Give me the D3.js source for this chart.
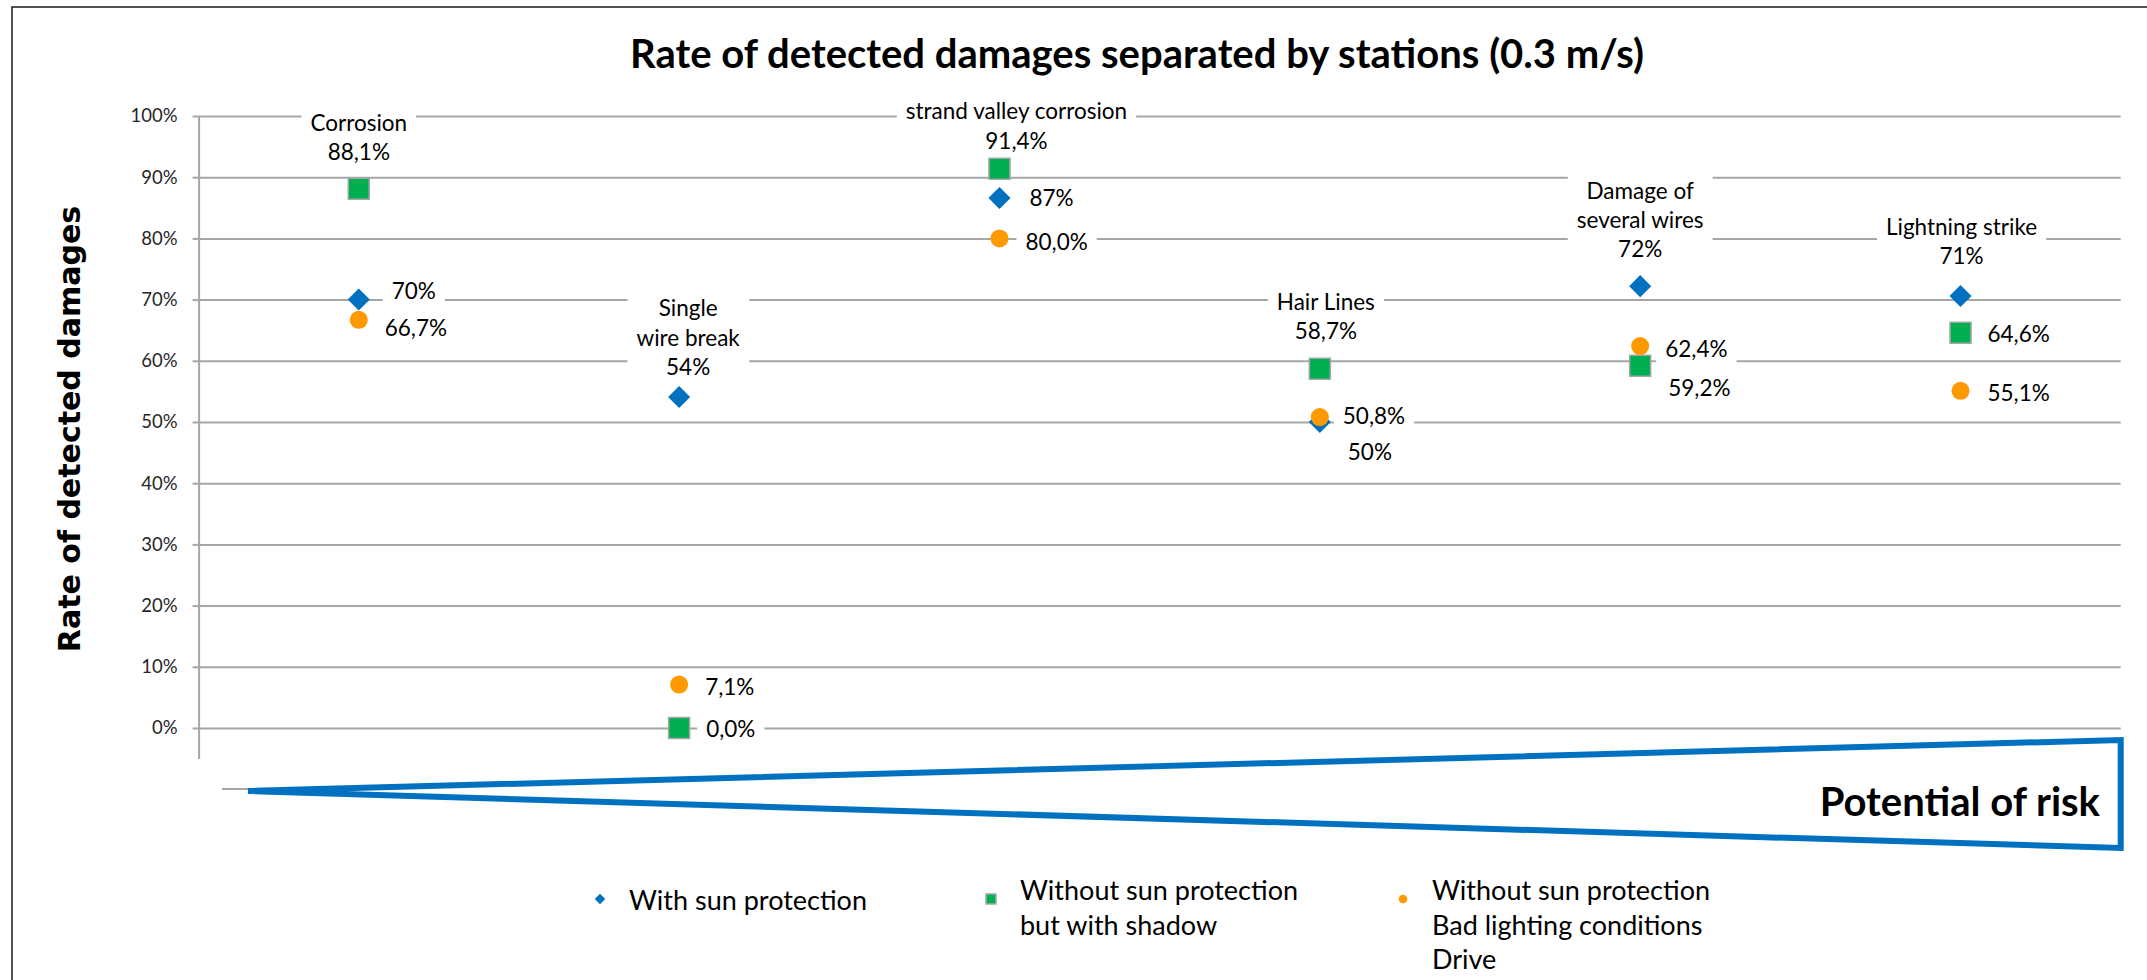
<!DOCTYPE html>
<html>
<head>
<meta charset="utf-8">
<script src="https://cdn.jsdelivr.net/npm/d3@7"></script>
<style>
  html, body { margin: 0; background: #fff; }
  #content { width: 2147px; height: 980px; }
</style>
</head>
<body>
<div id="content"></div>
<script>
// categories along the (implicit) risk axis
var categories = ["Corrosion", "Single\nwire break", "strand valley corrosion", "Hair Lines", "Damage of\nseveral wires", "Lightning strike"];
var seriesNames = ["With sun protection", "Without sun protection\nbut with shadow", "Without sun protection\nBad lighting conditions\nDrive"];
var withSunProtection = [0.700, 0.541, 0.866, 0.500, 0.722, 0.706];
var shadowNoProtection = [0.881, 0.000, 0.914, 0.587, 0.592, 0.646];
var badLightingDrive = [0.667, 0.071, 0.800, 0.508, 0.624, 0.551];
var yTicks = [0, 0.1, 0.2, 0.3, 0.4, 0.5, 0.6, 0.7, 0.8, 0.9, 1.0];
// which series' label also carries the category name
var nameCarrier = [1, 0, 1, 1, 0, 0];

(function(d3) {
    var width = 2147, height = 980;
    var font = "Lato, 'Open Sans', sans-serif";
    var svg = d3.select("#content").append("svg")
        .attr("viewBox", [0, 0, width, height])
        .attr("width", width).attr("height", height);

    var locale = d3.formatLocale({decimal: ",", thousands: ".", grouping: [3], currency: ["", " €"]});
    var pct0 = locale.format(".0%"), pct1 = locale.format(".1%");

    var series = [
        {values: withSunProtection, color: "#0070C0", shape: "diamond", fmt: pct0},
        {values: shadowNoProtection, color: "#00B050", shape: "square", fmt: pct1},
        {values: badLightingDrive, color: "#FF9900", shape: "circle", fmt: pct1}
    ];
    // label placement per series/category: [dx, dy, mode]
    var labelPlacement = [
        [[33, -9, "right"], [9, -30, "above"], [30, 0, "right"], [28, 30, "right"], [0, -37, "above"], [1, -40, "above"]],
        [[0, -37, "above"], [27, 1, "right"], [17, -28, "above"], [6, -38, "above"], [28, 22, "right"], [27, 1, "right"]],
        [[26, 8, "right"], [26, 2, "right"], [26, 3, "right"], [23, -1, "right"], [25, 3, "right"], [27, 2, "right"]]
    ];

    // chart frame
    svg.append("path")
        .attr("d", "M12," + height + "V7H" + width)
        .attr("fill", "none").attr("stroke", "#1a1a1a").attr("stroke-width", 1.5);

    var plot = {left: 198.6, right: 2120.7, top: 116, bottom: 758.6};
    var x = d3.scaleBand().domain(d3.range(categories.length)).range([plot.left, plot.right]);
    var y = d3.scaleLinear().domain([-0.05, 1]).range([plot.bottom, plot.top]);

    // gridlines
    svg.append("g")
        .attr("transform", "translate(" + plot.left + ",0)")
        .call(d3.axisLeft(y).tickValues(yTicks).tickSize(-(plot.right - plot.left)).tickFormat(""))
        .call(function(g) { g.select(".domain").remove(); })
        .selectAll("line").attr("stroke", "#A6A6A6").attr("stroke-width", 2);

    var yAxis = svg.append("g")
        .attr("transform", "translate(" + plot.left + ",0)")
        .call(d3.axisLeft(y).tickValues(yTicks).tickSize(6).tickSizeOuter(0).tickPadding(15).tickFormat(d3.format(".0%")));
    yAxis.selectAll("line, .domain").attr("stroke", "#A6A6A6").attr("stroke-width", 2);
    yAxis.selectAll("text").attr("font-family", font).attr("font-size", 18.5).attr("fill", "#262626");

    // title
    svg.append("text")
        .attr("x", 1137).attr("y", 68)
        .attr("text-anchor", "middle")
        .attr("font-family", font).attr("font-weight", "bold").attr("font-size", 40)
        .text("Rate of detected damages separated by stations (0.3 m/s)");

    svg.append("text")
        .attr("transform", "translate(80,429) rotate(-90)")
        .attr("text-anchor", "middle")
        .attr("font-family", "'DejaVu Sans', sans-serif").attr("font-weight", "bold").attr("font-size", 30)
        .text("Rate of detected damages");

    // risk wedge
    svg.append("line")
        .attr("x1", 222).attr("x2", 248).attr("y1", 789).attr("y2", 789)
        .attr("stroke", "#A6A6A6").attr("stroke-width", 2);
    svg.append("path")
        .attr("d", "M248,791L" + plot.right + ",740V848Z")
        .attr("fill", "none").attr("stroke", "#0070C0").attr("stroke-width", 6).attr("stroke-linejoin", "miter");
    svg.append("text")
        .attr("x", 2100).attr("y", 816)
        .attr("text-anchor", "end")
        .attr("font-family", font).attr("font-weight", "bold").attr("font-size", 40)
        .text("Potential of risk");

    function symbolPath(shape, size) {
        if (shape === "diamond") return d3.symbol(d3.symbolSquare, size * 0.55)();
        if (shape === "square") return d3.symbol(d3.symbolSquare, size)();
        return d3.symbol(d3.symbolCircle, size * 0.58)();
    }
    function drawMarker(g, s, cx, cy, size) {
        g.append("path")
            .attr("d", symbolPath(s.shape, size))
            .attr("transform", "translate(" + cx + "," + cy + ")" + (s.shape === "diamond" ? " rotate(45)" : ""))
            .attr("fill", s.color)
            .attr("stroke", s.shape === "square" ? "#A6A6A6" : "none")
            .attr("stroke-width", 1.5);
    }

    // markers
    var marks = svg.append("g");
    series.forEach(function(s) {
        s.values.forEach(function(v, i) {
            drawMarker(marks, s, x(i) + x.bandwidth() / 2, y(v), 441);
        });
    });

    // data labels with white boxes
    var labelSize = 22.5, lineH = 29.3;
    var labels = svg.append("g");
    series.forEach(function(s, si) {
        s.values.forEach(function(v, i) {
            var px = x(i) + x.bandwidth() / 2, py = y(v);
            var lines = [s.fmt(v)];
            if (nameCarrier[i] === si) lines = categories[i].split("\n").concat(lines);
            var p = labelPlacement[si][i];
            var g = labels.append("g");
            var t = g.append("text")
                .attr("font-family", font).attr("font-size", labelSize).attr("fill", "#000")
                .attr("text-anchor", p[2] === "above" ? "middle" : "start");
            lines.forEach(function(line, k) {
                t.append("tspan")
                    .attr("x", px + p[0])
                    .attr("y", py + p[1] - (lines.length - 1 - k) * lineH + labelSize * 0.36)
                    .text(line);
            });
            var b = t.node().getBBox();
            g.insert("rect", "text")
                .attr("x", b.x - 9).attr("y", b.y - 2)
                .attr("width", b.width + 18).attr("height", b.height + 4)
                .attr("fill", "#fff");
        });
    });

    // legend
    var legendX = [600, 991, 1403];
    var legend = svg.append("g");
    series.forEach(function(s, si) {
        drawMarker(legend, s, legendX[si], 899, 100);
        var lines = seriesNames[si].split("\n");
        var t = legend.append("text")
            .attr("font-family", font).attr("font-size", 27).attr("fill", "#000");
        lines.forEach(function(line, k) {
            t.append("tspan")
                .attr("x", legendX[si] + 29)
                .attr("y", (lines.length === 1 ? 910 : 900) + k * 34.7)
                .text(line);
        });
    });
})(d3);
</script>
</body>
</html>
